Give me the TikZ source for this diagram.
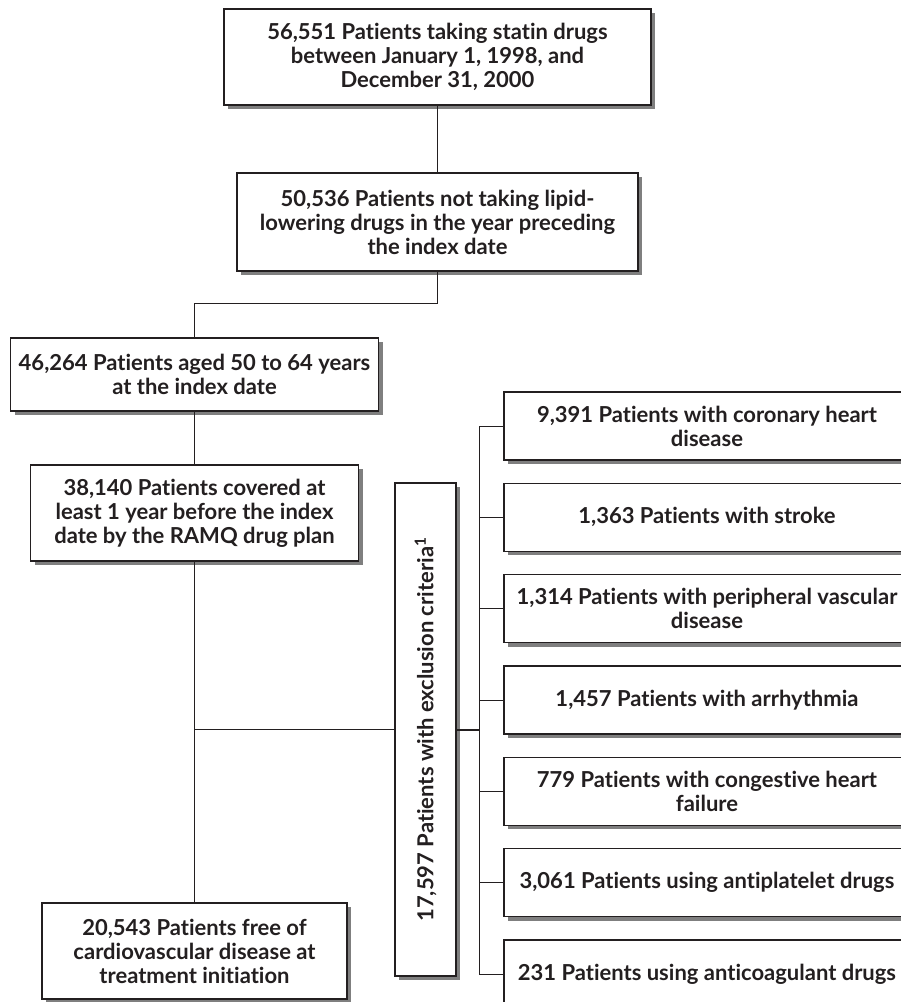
\documentclass[tikz,border=0pt]{standalone}
\usepackage{fontspec}
\setmainfont{Lato}[Ligatures=NoCommon]
\usetikzlibrary{shadows}
\definecolor{ink}{HTML}{231F20}
\definecolor{shade}{HTML}{7F7F7F}
\tikzset{
  boxfont/.style={font=\fontsize{22}{24}\selectfont\bfseries},
  box/.style={draw=ink, line width=1.2pt, fill=white, align=center, inner sep=0pt,
    text=ink, boxfont,
    drop shadow={shadow xshift=4pt, shadow yshift=-4pt, fill=shade, opacity=1}},
  rbox/.style={box, minimum width=406pt, minimum height=68pt},
  conn/.style={draw=ink, line width=1pt},
  thickconn/.style={draw=ink, line width=2pt},
}
\begin{document}
\begin{tikzpicture}[x=1pt,y=-1pt]
\clip (0,0) rectangle (901,1002);
\fill[white] (0,0) rectangle (901,1002);
% main column
\node[box, minimum width=427pt, minimum height=96pt] (n1) at (437.5,57)
  {56,551 Patients taking statin drugs\\between January 1, 1998, and\\December 31, 2000};
\node[box, minimum width=401pt, minimum height=98pt] (n2) at (437.5,222)
  {50,536 Patients not taking lipid-\\lowering drugs in the year preceding\\the index date};
\node[box, minimum width=368pt, minimum height=73pt] (n3) at (194.5,374.5)
  {46,264 Patients aged 50 to 64 years\\at the index date};
\node[box, minimum width=328pt, minimum height=96pt] (n4) at (194.5,513)
  {38,140 Patients covered at\\least 1 year before the index\\date by the RAMQ drug plan};
\node[box, minimum width=305pt, minimum height=96pt] (n5) at (194.5,951)
  {20,543 Patients free of\\cardiovascular disease at\\treatment initiation};
% exclusion box
\node[box, minimum width=61pt, minimum height=493pt] (vb) at (425.5,729.5) {};
\node[rotate=90, text=ink, boxfont, inner sep=0pt] (vbt) at (vb.center)
  {17,597 Patients with exclusion criteria\textsuperscript{1}};
% right boxes
\node[rbox] (r1) at (707,426) {9,391 Patients with coronary heart\\disease};
\node[rbox] (r2) at (707,517.3) {1,363 Patients with stroke};
\node[rbox] (r3) at (707,608.7) {1,314 Patients with peripheral vascular\\disease};
\node[rbox] (r4) at (707,700) {1,457 Patients with arrhythmia};
\node[rbox] (r5) at (707,791.3) {779 Patients with congestive heart\\failure};
\node[rbox] (r6) at (707,882.7) {3,061 Patients using antiplatelet drugs};
\node[rbox] (r7) at (707,974) {231 Patients using anticoagulant drugs};
% connectors
\draw[conn] (n1.south) -- (n2.north);
\draw[conn] (n2.south) -- ++(0,32) -| (n3.north);
\draw[conn] (n3.south) -- (n4.north);
\draw[conn] (n4.south) -- (n5.north);
\coordinate (br) at (n4.south |- vb.west);
\draw[conn] (br) -- (vb.west);
\coordinate (bus) at (480,729.5);
\draw[thickconn] (vb.east) -- (bus);
\draw[conn] (r1.west) -- ++(-24,0) |- (r7.west);
\foreach \r in {r2,r3,r4,r5,r6} { \draw[conn] (\r.west) -- ++(-24,0); }
\end{tikzpicture}
\end{document}
